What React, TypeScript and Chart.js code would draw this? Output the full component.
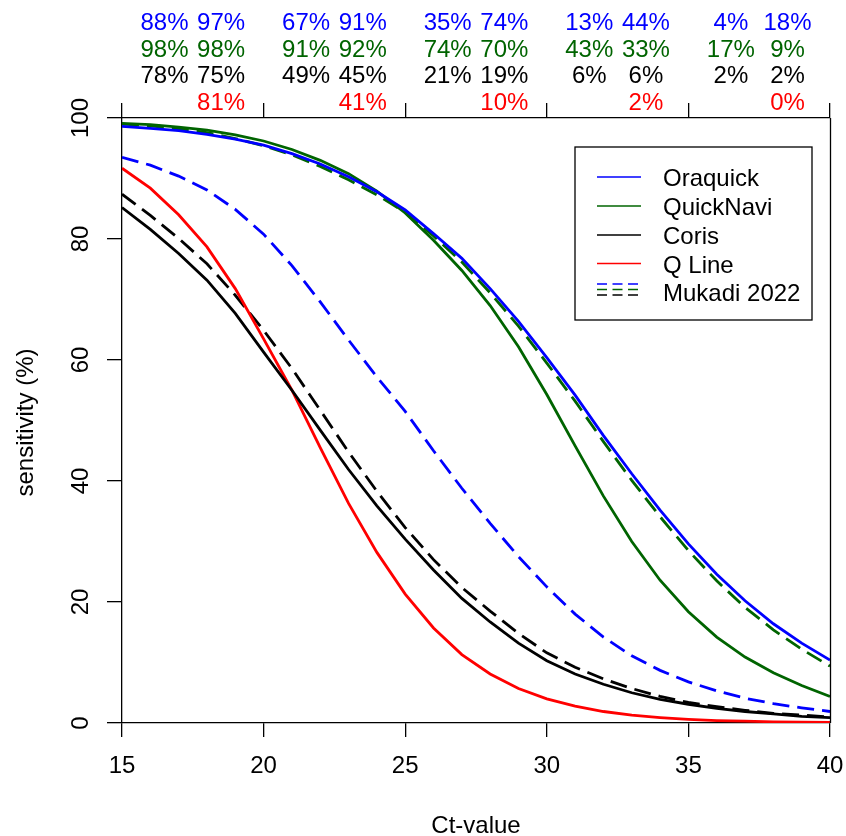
import React, { useEffect, useRef } from 'react';
import { Chart, registerables } from 'chart.js';

Chart.register(...registerables);

const FONT = '"Liberation Sans", Arial, sans-serif';

const ctValues = [15, 16, 17, 18, 19, 20, 21, 22, 23, 24, 25, 26, 27, 28, 29, 30, 31, 32, 33, 34, 35, 36, 37, 38, 39, 40];

const oraquick = [98.6, 98.3, 97.9, 97.3, 96.5, 95.5, 94.1, 92.4, 90.3, 87.8, 84.8, 80.9, 76.8, 71.8, 66.4, 60.4, 54.2, 47.5, 41.2, 35.2, 29.6, 24.6, 20.2, 16.4, 13.2, 10.4];
const quickNavi = [99.1, 98.9, 98.5, 98.0, 97.2, 96.2, 94.8, 93.0, 90.8, 87.9, 84.3, 79.8, 74.8, 69.0, 62.2, 54.3, 45.8, 37.5, 30.0, 23.6, 18.4, 14.2, 10.9, 8.3, 6.2, 4.4];
const coris = [85.2, 81.6, 77.6, 73.2, 67.7, 61.3, 55.0, 48.4, 41.9, 35.9, 30.4, 25.3, 20.6, 16.7, 13.2, 10.3, 8.1, 6.4, 5.0, 3.9, 3.1, 2.4, 1.9, 1.5, 1.1, 0.9];
const qLine = [91.7, 88.4, 84.0, 78.7, 71.8, 63.5, 55.0, 45.5, 36.3, 28.2, 21.3, 15.7, 11.3, 8.1, 5.7, 4.0, 2.8, 1.9, 1.3, 0.9, 0.6, 0.4, 0.3, 0.2, 0.15, 0.1];
const mukadiOraquick = [93.5, 92.2, 90.4, 88.1, 84.9, 80.8, 75.6, 69.6, 63.3, 57.2, 51.5, 45.0, 38.8, 33.0, 27.5, 22.5, 18.0, 14.2, 11.1, 8.7, 6.8, 5.3, 4.1, 3.2, 2.5, 1.9];
const mukadiQuickNavi = [99.0, 98.7, 98.2, 97.6, 96.6, 95.4, 93.9, 92.0, 89.8, 87.3, 84.4, 80.5, 76.2, 71.1, 65.6, 59.5, 53.2, 46.5, 40.1, 34.1, 28.5, 23.5, 19.1, 15.4, 12.2, 9.4];
const mukadiCoris = [87.4, 83.9, 80.1, 75.9, 70.7, 64.9, 58.6, 51.7, 44.8, 38.3, 32.3, 27.0, 22.4, 18.5, 14.8, 11.6, 9.2, 7.3, 5.7, 4.4, 3.4, 2.7, 2.1, 1.6, 1.3, 1.0];

const yTicks = [0, 20, 40, 60, 80, 100];

const annotCt = [16.5, 18.5, 21.5, 23.5, 26.5, 28.5, 31.5, 33.5, 36.5, 38.5];
const annotOraquick = ['88%', '97%', '67%', '91%', '35%', '74%', '13%', '44%', '4%', '18%'];
const annotQuickNavi = ['98%', '98%', '91%', '92%', '74%', '70%', '43%', '33%', '17%', '9%'];
const annotCoris = ['78%', '75%', '49%', '45%', '21%', '19%', '6%', '6%', '2%', '2%'];
const annotQLine = ['', '81%', '', '41%', '', '10%', '', '2%', '', '0%'];

const legendLabels = ['Oraquick', 'QuickNavi', 'Coris', 'Q Line', 'Mukadi 2022'];

const BLUE = '#0000FF';
const GREEN = '#006400';
const BLACK = '#000000';
const RED = '#FF0000';

const toPoints = (vals: number[]) => ctValues.map((x, i) => ({ x, y: vals[i] }));

const overlayPlugin = {
  id: 'overlay',
  afterDraw(chart: any) {
    const ctx = chart.ctx as CanvasRenderingContext2D;
    const xs = chart.scales.x;
    const ys = chart.scales.y;
    const area = chart.chartArea;
    ctx.save();

    // right frame line
    ctx.strokeStyle = '#000';
    ctx.lineWidth = 1.3;
    ctx.beginPath();
    ctx.moveTo(Math.round(area.right) + 0.5, area.top);
    ctx.lineTo(Math.round(area.right) + 0.5, area.bottom);
    ctx.stroke();

    ctx.fillStyle = '#000';
    ctx.font = `24px ${FONT}`;

    // rotated y tick labels
    yTicks.forEach((v) => {
      const py = ys.getPixelForValue(v);
      ctx.save();
      ctx.translate(88, py);
      ctx.rotate(-Math.PI / 2);
      ctx.textAlign = 'center';
      ctx.textBaseline = 'alphabetic';
      ctx.fillText(String(v), 0, 0);
      ctx.restore();
    });

    // y title
    ctx.save();
    ctx.translate(33, (area.top + area.bottom) / 2 + 2);
    ctx.rotate(-Math.PI / 2);
    ctx.textAlign = 'center';
    ctx.textBaseline = 'alphabetic';
    ctx.fillText('sensitivity (%)', 0, 0);
    ctx.restore();

    // x title
    ctx.textAlign = 'center';
    ctx.textBaseline = 'alphabetic';
    ctx.fillText('Ct-value', (area.left + area.right) / 2, 833);

    // annotation rows
    const rows: [string[], string, number][] = [
      [annotOraquick, BLUE, 30],
      [annotQuickNavi, GREEN, 56.5],
      [annotCoris, BLACK, 83],
      [annotQLine, RED, 110],
    ];
    rows.forEach(([labels, color, by]) => {
      ctx.fillStyle = color;
      labels.forEach((t, i) => {
        if (!t) return;
        ctx.fillText(t, xs.getPixelForValue(annotCt[i]), by);
      });
    });

    // legend
    const bx = 575, byy = 147, bw = 237, bh = 173;
    ctx.fillStyle = '#fff';
    ctx.fillRect(bx, byy, bw, bh);
    ctx.strokeStyle = '#000';
    ctx.lineWidth = 1.3;
    ctx.setLineDash([]);
    ctx.strokeRect(bx, byy, bw, bh);
    const rowY = [177, 206, 235, 263.5, 292];
    const solidColors = [BLUE, GREEN, BLACK, RED];
    ctx.lineWidth = 1.5;
    solidColors.forEach((c, i) => {
      ctx.strokeStyle = c;
      ctx.beginPath();
      ctx.moveTo(597, rowY[i]);
      ctx.lineTo(641, rowY[i]);
      ctx.stroke();
    });
    const dashColors = [BLUE, GREEN, BLACK];
    ctx.setLineDash([10, 5.5]);
    dashColors.forEach((c, i) => {
      ctx.strokeStyle = c;
      ctx.beginPath();
      ctx.moveTo(597, 284 + i * 5.5);
      ctx.lineTo(639, 284 + i * 5.5);
      ctx.stroke();
    });
    ctx.setLineDash([]);
    ctx.fillStyle = '#000';
    ctx.textAlign = 'left';
    legendLabels.forEach((t, i) => {
      ctx.fillText(t, 663, rowY[i] + 9);
    });
    ctx.restore();
  },
};

export default function App() {
  const ref = useRef<HTMLCanvasElement | null>(null);

  useEffect(() => {
    if (!ref.current) return;
    Chart.defaults.font.family = FONT;
    const lw = 2.8;
    const dash = [17, 8];
    const chart = new Chart(ref.current, {
      type: 'line',
      data: {
        datasets: [
          { label: 'Oraquick', data: toPoints(oraquick), borderColor: BLUE, borderWidth: lw, pointRadius: 0, tension: 0, fill: false },
          { label: 'QuickNavi', data: toPoints(quickNavi), borderColor: GREEN, borderWidth: lw, pointRadius: 0, tension: 0, fill: false },
          { label: 'Coris', data: toPoints(coris), borderColor: BLACK, borderWidth: lw, pointRadius: 0, tension: 0, fill: false },
          { label: 'Q Line', data: toPoints(qLine), borderColor: RED, borderWidth: lw, pointRadius: 0, tension: 0, fill: false },
          { label: 'Mukadi Oraquick', data: toPoints(mukadiOraquick), borderColor: BLUE, borderWidth: lw, borderDash: dash, pointRadius: 0, tension: 0, fill: false },
          { label: 'Mukadi QuickNavi', data: toPoints(mukadiQuickNavi), borderColor: GREEN, borderWidth: lw, borderDash: dash, pointRadius: 0, tension: 0, fill: false },
          { label: 'Mukadi Coris', data: toPoints(mukadiCoris), borderColor: BLACK, borderWidth: lw, borderDash: dash, pointRadius: 0, tension: 0, fill: false },
        ],
      },
      options: {
        responsive: false,
        animation: false,
        devicePixelRatio: 1,
        layout: { padding: { left: 0, top: 118, right: 16, bottom: 0 } },
        plugins: { legend: { display: false }, tooltip: { enabled: false } },
        scales: {
          x: {
            type: 'linear',
            position: 'bottom',
            min: 15,
            max: 40,
            ticks: { stepSize: 5, color: '#000', font: { size: 24, family: FONT }, padding: 15, maxRotation: 0, minRotation: 0 },
            grid: { drawOnChartArea: false, drawTicks: true, tickLength: 14, color: '#000', lineWidth: 1.3 },
            border: { display: true, color: '#000', width: 1.3 },
            afterFit: (s: any) => { s.height = 113; s.paddingLeft = 0; s.paddingRight = 0; },
          },
          x2: {
            type: 'linear',
            position: 'top',
            min: 15,
            max: 40,
            ticks: { stepSize: 5, display: false },
            grid: { drawOnChartArea: false, drawTicks: true, tickLength: 15, color: '#000', lineWidth: 1.3 },
            border: { display: true, color: '#000', width: 1.3 },
            afterFit: (s: any) => { s.height = 0; s.paddingLeft = 0; s.paddingRight = 0; },
          },
          y: {
            type: 'linear',
            position: 'left',
            min: 0,
            max: 100,
            ticks: { stepSize: 20, display: false },
            grid: { drawOnChartArea: false, drawTicks: true, tickLength: 15, color: '#000', lineWidth: 1.3 },
            border: { display: true, color: '#000', width: 1.3 },
            afterFit: (s: any) => { s.width = 122; s.paddingTop = 0; s.paddingBottom = 0; },
          },
        },
      } as any,
      plugins: [overlayPlugin],
    });
    return () => chart.destroy();
  }, []);

  return (
    <div style={{ position: 'absolute', left: 0, top: 0, width: 846, height: 836, background: '#fff' }}>
      <canvas ref={ref} width={846} height={836} style={{ display: 'block' }} />
    </div>
  );
}
